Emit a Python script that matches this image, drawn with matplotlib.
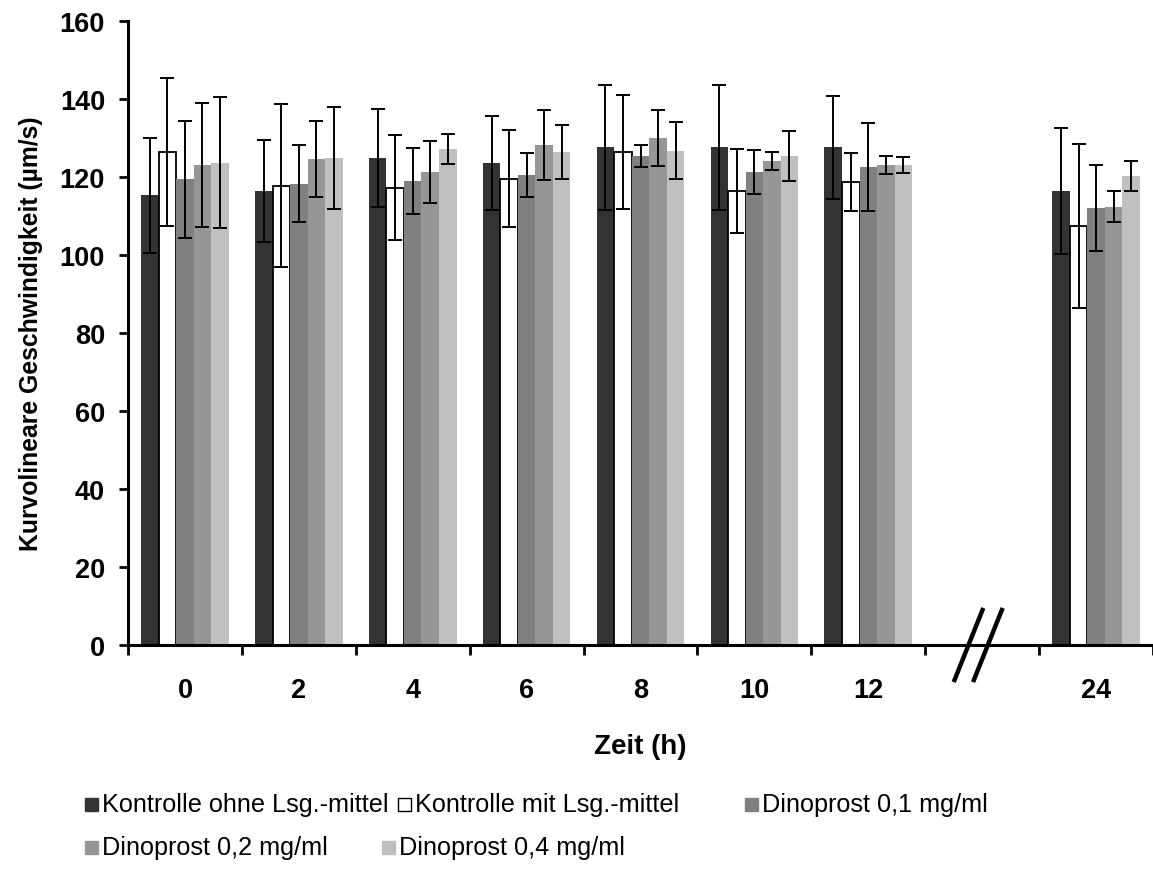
import matplotlib
matplotlib.use("Agg")
import matplotlib.pyplot as plt
from matplotlib.patches import Rectangle
import numpy as np

plt.rcParams["font.family"] = ["Liberation Sans", "DejaVu Sans"]

# categories on the x axis ("" = gap before the axis break)
categories = ["0", "2", "4", "6", "8", "10", "12", "", "24"]

series_names = [
    "Kontrolle ohne Lsg.-mittel",
    "Kontrolle mit Lsg.-mittel",
    "Dinoprost 0,1 mg/ml",
    "Dinoprost 0,2 mg/ml",
    "Dinoprost 0,4 mg/ml",
]

kontrolle_ohne = [115.3, 116.4, 124.9, 123.6, 127.6, 127.6, 127.6, 116.4]
err_ohne = [14.7, 13.0, 12.5, 12.0, 16.0, 16.0, 13.2, 16.2]
kontrolle_mit = [126.4, 117.8, 117.3, 119.6, 126.4, 116.4, 118.7, 107.5]
err_mit = [19.0, 21.0, 13.4, 12.5, 14.5, 10.7, 7.5, 21.0]
dino_01 = [119.4, 118.3, 119.0, 120.6, 125.4, 121.3, 122.6, 112.1]
err_01 = [15.0, 9.8, 8.4, 5.6, 2.8, 5.6, 11.3, 11.0]
dino_02 = [123.1, 124.6, 121.3, 128.2, 130.0, 124.1, 123.1, 112.4]
err_02 = [16.0, 9.8, 8.0, 9.0, 7.3, 2.3, 2.3, 3.9]
dino_04 = [123.6, 124.9, 127.2, 126.4, 126.7, 125.4, 123.1, 120.3]
err_04 = [16.8, 13.0, 3.8, 7.0, 7.3, 6.3, 2.0, 3.9]

values = [kontrolle_ohne, kontrolle_mit, dino_01, dino_02, dino_04]
errors = [err_ohne, err_mit, err_01, err_02, err_04]
colors = ["#333333", "#ffffff", "#808080", "#969696", "#c0c0c0"]

W, H = 1153, 870
fig = plt.figure(figsize=(W / 100, H / 100), dpi=100)
ax = fig.add_axes([128 / W, 1 - 646 / H, 1 - 128 / W, (646 - 22) / H])

pos = np.array([i for i, c in enumerate(categories) if c])
bw = 0.154

for k, (vals, col) in enumerate(zip(values, colors)):
    x = pos + (k - 2) * bw
    ec = "black" if col == "#ffffff" else col
    ax.bar(x, vals, width=bw, color=col, edgecolor=ec,
           linewidth=1.3 if col == "#ffffff" else 0, zorder=2)

for k, (vals, errs) in enumerate(zip(values, errors)):
    x = pos + (k - 2) * bw
    ax.errorbar(x, vals, yerr=errs, fmt="none", ecolor="black",
                elinewidth=1.4, capsize=4.7, capthick=1.4, zorder=3)

ax.set_xlim(-0.5, len(categories) - 0.5)
ax.set_ylim(0, 160)
ax.set_yticks(range(0, 161, 20))
ax.set_xticks(range(len(categories)))
ax.set_xticklabels(categories, fontsize=19.5, fontweight="bold")
ax.set_xticks(np.arange(-0.5, len(categories) - 0.4, 1), minor=True)
ax.tick_params(axis="x", which="major", length=0, pad=23)
ax.tick_params(axis="x", which="minor", length=7, width=2, direction="out")
ax.tick_params(axis="y", length=6.5, width=2, direction="out", pad=10,
               labelsize=19.5)
for lab in ax.get_yticklabels():
    lab.set_fontweight("bold")

for side in ["top", "right"]:
    ax.spines[side].set_visible(False)
for side in ["left", "bottom"]:
    ax.spines[side].set_linewidth(2.2)

ax.set_xlabel("Zeit (h)", fontsize=20, fontweight="bold", labelpad=22)
ax.set_ylabel("Kurvolineare Geschwindigkeit (µm/s)", fontsize=17.8,
              fontweight="bold", labelpad=12)

# axis break marks
for x0, x1 in [(6.75, 7.01), (6.92, 7.18)]:
    ax.plot([x0, x1], [-9.5, 9.5], color="black", lw=3.2,
            clip_on=False, zorder=5, solid_capstyle="butt")

# legend (Excel-like layout, two rows)
legend_slots = [(85, 805), (398, 805), (745, 805), (85, 848), (382, 848)]
for (px, py), name, col in zip(legend_slots, series_names, colors):
    fig.patches.append(Rectangle(((px) / W, 1 - (py + 7) / H), 13 / W, 13 / H,
                                 transform=fig.transFigure, facecolor=col,
                                 edgecolor="black" if col == "#ffffff" else col,
                                 linewidth=1.0))
    fig.text((px + 17) / W, 1 - py / H, name, fontsize=18.2, va="center",
             ha="left")

fig.savefig("out.png", dpi=100)
